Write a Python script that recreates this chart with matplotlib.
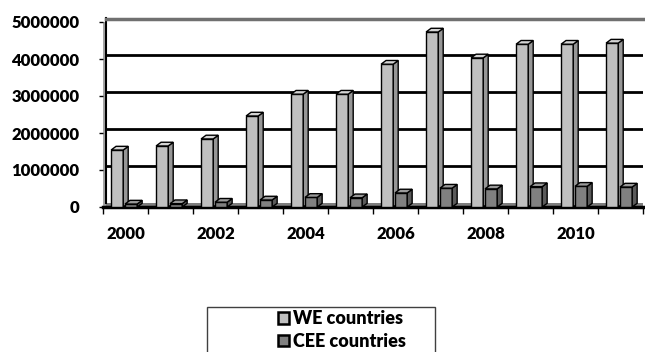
import numpy as np
import matplotlib.pyplot as plt
from matplotlib.patches import Polygon, Patch, Rectangle

years = [2000, 2001, 2002, 2003, 2004, 2005, 2006, 2007, 2008, 2009, 2010, 2011]
we_values = [1540000, 1650000, 1840000, 2460000, 3050000, 3050000,
             3860000, 4730000, 4030000, 4400000, 4400000, 4430000]
cee_values = [80000, 90000, 130000, 190000, 260000, 250000,
              380000, 510000, 490000, 550000, 560000, 540000]
series_names = ['WE countries', 'CEE countries']
year_labels = ['2000', '2002', '2004', '2006', '2008', '2010']

plt.rcParams['font.family'] = ['Lato', 'DejaVu Sans']
plt.rcParams['font.weight'] = 'heavy'

fig = plt.figure(figsize=(6.45, 3.52), dpi=100)
ax = fig.add_axes([103 / 645, 1 - 207 / 352, 540 / 645, 185 / 352])

x = np.arange(len(years))
w = 0.27
dx = 0.11      # depth offset in category units
dy = 100000    # depth offset in value units

ax.set_xlim(-0.5, len(years) - 0.5)
ax.set_ylim(0, 5000000)

# back walls / floor
ax.add_patch(Rectangle((-0.5, 0), 12, dy, facecolor='#7f7f7f', edgecolor='none', zorder=0.5))
ax.add_patch(Rectangle((-0.5, 0), 0.07, 5000000, facecolor='#a6a6a6', edgecolor='none',
                       zorder=0.5, clip_on=False))
ax.plot([-0.43, -0.43], [dy, 5000000 + dy], color='black', lw=1.5, zorder=0.6, clip_on=False)
ax.plot([-0.43, 11.5], [5000000 + dy * 0.8, 5000000 + dy * 0.8], color='#707070', lw=2.5,
        zorder=0.6, clip_on=False)
for v in [1000000, 2000000, 3000000, 4000000]:
    ax.plot([-0.43, 11.5], [v + dy, v + dy], color='black', lw=2, zorder=0.6)
ax.plot([-0.5, 11.5], [0, 0], color='black', lw=2.5, zorder=0.7, clip_on=False)


def bar3d(xs, vals, front, side, top):
    ax.bar(xs, vals, width=w, align='edge', color=front, edgecolor='black', lw=1, zorder=2)
    for xi, v in zip(xs, vals):
        ax.add_patch(Polygon([(xi + w, 0), (xi + w + dx, dy), (xi + w + dx, v + dy), (xi + w, v)],
                             closed=True, facecolor=side, edgecolor='black', lw=1, zorder=2,
                             clip_on=False))
        ax.add_patch(Polygon([(xi, v), (xi + dx, v + dy), (xi + w + dx, v + dy), (xi + w, v)],
                             closed=True, facecolor=top, edgecolor='black', lw=1, zorder=2,
                             clip_on=False))


bar3d(x - 0.32, we_values, '#c0c0c0', '#969696', '#d4d4d4')
bar3d(x - 0.01, cee_values, '#808080', '#5a5a5a', '#9a9a9a')

for s in ax.spines.values():
    s.set_visible(False)

ax.set_yticks([0, 1000000, 2000000, 3000000, 4000000, 5000000])
ax.set_yticklabels(['0', '1000000', '2000000', '3000000', '4000000', '5000000'])
ax.tick_params(axis='y', length=3, width=1, pad=14, labelsize=12)

ax.set_xticks(np.arange(-0.5, len(years), 1.0))
ax.set_xticklabels([])
ax.tick_params(axis='x', which='major', length=5, width=1, direction='out')
ax.set_xticks(x[::2], minor=True)
ax.set_xticklabels(year_labels, minor=True)
ax.tick_params(axis='x', which='minor', length=0, pad=14, labelsize=12)
for lab in ax.get_xticklabels(minor=True) + ax.get_yticklabels():
    lab.set_fontweight('heavy')

# legend
fig.patches.append(Rectangle((207 / 645, -0.01), 228 / 645, 1 - 307 / 352 + 0.01,
                             transform=fig.transFigure, facecolor='white',
                             edgecolor='#404040', lw=1))
handles = [Patch(facecolor='#c0c0c0', edgecolor='black', lw=1.8),
           Patch(facecolor='#808080', edgecolor='black', lw=1.8)]
leg = fig.legend(handles, series_names, loc='center', bbox_to_anchor=(342 / 645, 1 - 330 / 352),
                 frameon=False, fontsize=13, handlelength=0.62, handleheight=0.62,
                 handletextpad=0.2, labelspacing=0.3, borderpad=0)
for t in leg.get_texts():
    t.set_fontweight('heavy')

fig.savefig('out.png', dpi=100)
